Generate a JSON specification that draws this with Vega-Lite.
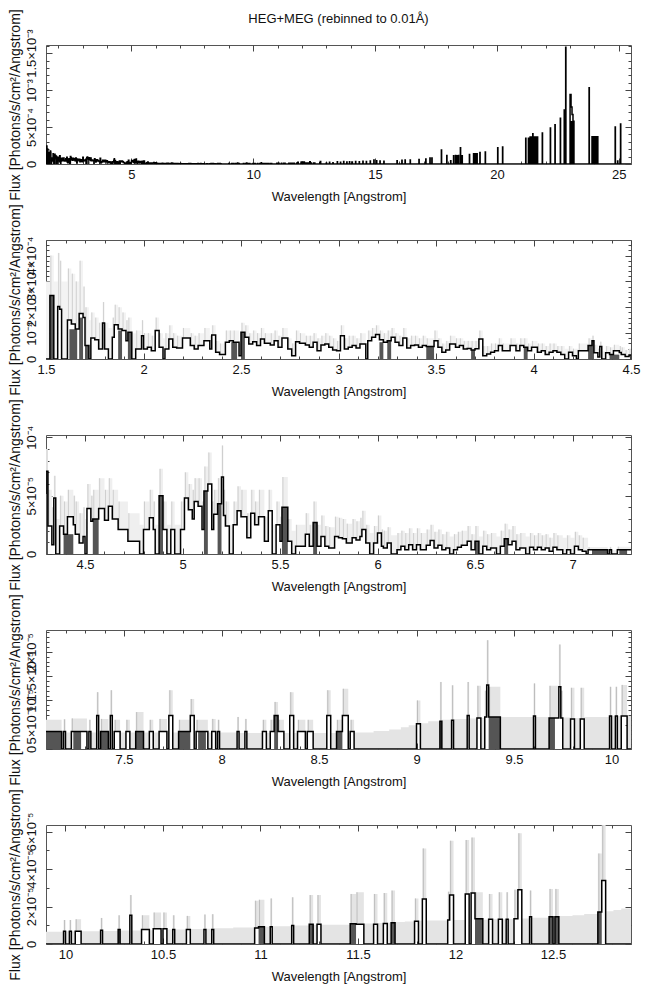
{
"$schema":"https://vega.github.io/schema/vega-lite/v6.json",
"background":"white",
"padding":{"left":7,"top":8,"right":10,"bottom":5},
"datasets":{
"spec":[
{"w":1.50,"f":0,"hi":30},{"w":1.52,"f":24.5,"hi":40},{"w":1.54,"f":0,"hi":30},{"w":1.56,"f":20.3,"hi":41},{"w":1.57,"f":19.2,"hi":38},{"w":1.58,"f":0,"hi":30},{"w":1.61,"f":15.1,"hi":35},{"w":1.63,"f":13.5,"hi":33},{"w":1.65,"f":11.6,"hi":30},{"w":1.67,"f":17.6,"hi":38},{"w":1.69,"f":16.0,"hi":28},{"w":1.70,"f":5.2,"hi":20},{"w":1.72,"f":0,"hi":15},{"w":1.73,"f":8.1,"hi":18},{"w":1.75,"f":7.4,"hi":16},{"w":1.77,"f":3.9,"hi":14},{"w":1.79,"f":13.9,"hi":22},{"w":1.80,"f":3.9,"hi":14},{"w":1.82,"f":0,"hi":12},{"w":1.84,"f":8.4,"hi":16},{"w":1.85,"f":13.2,"hi":21},{"w":1.87,"f":11.6,"hi":20},{"w":1.89,"f":11.0,"hi":18},{"w":1.91,"f":7.1,"hi":15},{"w":1.92,"f":10.3,"hi":16},{"w":1.94,"f":0,"hi":10},{"w":1.96,"f":3.9,"hi":11},{"w":1.99,"f":9.0,"hi":15},{"w":2.00,"f":3.9,"hi":10},{"w":2.02,"f":4.5,"hi":10},{"w":2.04,"f":3.2,"hi":9},{"w":2.06,"f":11.0,"hi":16},{"w":2.08,"f":4.5,"hi":10},{"w":2.10,"f":0,"hi":8},{"w":2.11,"f":3.9,"hi":10},{"w":2.13,"f":7.7,"hi":13},{"w":2.15,"f":4.5,"hi":10},{"w":2.17,"f":4.3,"hi":9},{"w":2.20,"f":8.1,"hi":12},{"w":2.24,"f":5.2,"hi":10},{"w":2.26,"f":3.9,"hi":9},{"w":2.28,"f":5.2,"hi":10},{"w":2.31,"f":7.1,"hi":12},{"w":2.34,"f":3.9,"hi":9},{"w":2.35,"f":9.3,"hi":13},{"w":2.37,"f":2.6,"hi":7},{"w":2.39,"f":1.7,"hi":6},{"w":2.42,"f":6.5,"hi":11},{"w":2.44,"f":7.1,"hi":11},{"w":2.46,"f":6.5,"hi":11},{"w":2.49,"f":1.3,"hi":6},{"w":2.50,"f":10.3,"hi":14},{"w":2.52,"f":8.4,"hi":13},{"w":2.54,"f":5.8,"hi":10},{"w":2.56,"f":6.7,"hi":11},{"w":2.58,"f":5.2,"hi":10},{"w":2.60,"f":7.7,"hi":12},{"w":2.62,"f":6.1,"hi":10},{"w":2.65,"f":5.4,"hi":10},{"w":2.67,"f":7.1,"hi":11},{"w":2.69,"f":4.5,"hi":9},{"w":2.71,"f":8.1,"hi":12},{"w":2.74,"f":3.9,"hi":8},{"w":2.76,"f":1.3,"hi":6},{"w":2.78,"f":6.7,"hi":11},{"w":2.80,"f":6.1,"hi":10},{"w":2.83,"f":5.4,"hi":9},{"w":2.85,"f":4.5,"hi":9},{"w":2.87,"f":6.5,"hi":10},{"w":2.89,"f":3.2,"hi":8},{"w":2.91,"f":5.4,"hi":9},{"w":2.93,"f":5.8,"hi":10},{"w":2.95,"f":4.5,"hi":9},{"w":2.97,"f":3.5,"hi":8},{"w":2.99,"f":3.2,"hi":7},{"w":3.01,"f":9.0,"hi":13},{"w":3.03,"f":3.9,"hi":8},{"w":3.05,"f":4.5,"hi":9},{"w":3.07,"f":5.2,"hi":9},{"w":3.09,"f":4.3,"hi":8},{"w":3.11,"f":5.8,"hi":10},{"w":3.14,"f":0,"hi":5},{"w":3.15,"f":7.1,"hi":11},{"w":3.17,"f":8.4,"hi":12},{"w":3.19,"f":9.5,"hi":13},{"w":3.21,"f":7.4,"hi":11},{"w":3.23,"f":6.5,"hi":10},{"w":3.25,"f":7.1,"hi":11},{"w":3.27,"f":8.4,"hi":12},{"w":3.29,"f":6.5,"hi":10},{"w":3.31,"f":5.2,"hi":9},{"w":3.33,"f":8.1,"hi":12},{"w":3.35,"f":4.3,"hi":8},{"w":3.37,"f":5.2,"hi":9},{"w":3.39,"f":5.4,"hi":9},{"w":3.41,"f":4.5,"hi":8},{"w":3.43,"f":5.2,"hi":9},{"w":3.45,"f":4.8,"hi":8},{"w":3.49,"f":7.1,"hi":11},{"w":3.51,"f":4.5,"hi":8},{"w":3.53,"f":2.6,"hi":6},{"w":3.55,"f":3.5,"hi":7},{"w":3.57,"f":5.8,"hi":9},{"w":3.60,"f":4.5,"hi":8},{"w":3.62,"f":5.2,"hi":8},{"w":3.64,"f":3.9,"hi":7},{"w":3.66,"f":4.1,"hi":7},{"w":3.68,"f":3.5,"hi":7},{"w":3.70,"f":4.0,"hi":7},{"w":3.72,"f":7.7,"hi":11},{"w":3.74,"f":1.3,"hi":5},{"w":3.76,"f":1.9,"hi":5},{"w":3.78,"f":2.6,"hi":6},{"w":3.80,"f":3.2,"hi":6},{"w":3.82,"f":5.2,"hi":8},{"w":3.84,"f":3.2,"hi":6},{"w":3.88,"f":5.2,"hi":8},{"w":3.91,"f":3.2,"hi":6},{"w":3.93,"f":5.2,"hi":8},{"w":3.95,"f":4.5,"hi":8},{"w":3.97,"f":3.2,"hi":6},{"w":3.99,"f":4.5,"hi":7},{"w":4.02,"f":2.6,"hi":6},{"w":4.04,"f":3.2,"hi":6},{"w":4.06,"f":1.7,"hi":5},{"w":4.08,"f":2.6,"hi":6},{"w":4.10,"f":3.2,"hi":6},{"w":4.12,"f":2.6,"hi":5},{"w":4.14,"f":1.7,"hi":5},{"w":4.16,"f":0,"hi":4},{"w":4.18,"f":2.6,"hi":5},{"w":4.20,"f":1.3,"hi":4},{"w":4.22,"f":0,"hi":4},{"w":4.23,"f":3.2,"hi":6},{"w":4.28,"f":5.2,"hi":8},
{"w":4.30,"f":7.1,"hi":9.0},{"w":4.31,"f":2.4,"hi":5.5},{"w":4.33,"f":0.8,"hi":4},{"w":4.34,"f":4.8,"hi":6.7},{"w":4.35,"f":0,"hi":3},{"w":4.37,"f":2.4,"hi":5},{"w":4.39,"f":1.7,"hi":4.5},{"w":4.41,"f":3.2,"hi":5.5},{"w":4.44,"f":2.5,"hi":5},{"w":4.45,"f":1.7,"hi":4.5},{"w":4.47,"f":0.95,"hi":3.5},{"w":4.49,"f":1.5,"hi":4},{"w":4.50,"f":0,"hi":3},{"w":4.51,"f":3.9,"hi":6},{"w":4.53,"f":2.8,"hi":5},{"w":4.54,"f":3.0,"hi":5.5},{"w":4.57,"f":3.9,"hi":6.5},{"w":4.60,"f":2.9,"hi":5.5},{"w":4.62,"f":4.1,"hi":6.5},{"w":4.64,"f":3.0,"hi":5.5},{"w":4.67,"f":2.1,"hi":4.5},{"w":4.72,"f":1.1,"hi":3.5},{"w":4.78,"f":0,"hi":2.5},{"w":4.80,"f":2.1,"hi":4.5},{"w":4.83,"f":3.1,"hi":5.5},{"w":4.85,"f":2.1,"hi":4.5},{"w":4.86,"f":0,"hi":2.5},{"w":4.88,"f":5.0,"hi":7.3},{"w":4.90,"f":2.1,"hi":4.5},{"w":4.92,"f":0,"hi":2.5},{"w":4.94,"f":2.1,"hi":4.5},{"w":4.96,"f":0,"hi":2.5},{"w":4.99,"f":2.1,"hi":4.5},{"w":5.01,"f":4.8,"hi":7},{"w":5.03,"f":3.8,"hi":6},{"w":5.05,"f":3.0,"hi":5.5},{"w":5.06,"f":4.5,"hi":6.5},{"w":5.08,"f":4.1,"hi":6.5},{"w":5.10,"f":2.1,"hi":4.5},{"w":5.11,"f":5.4,"hi":7.5},{"w":5.13,"f":6.0,"hi":8.7},{"w":5.15,"f":2.1,"hi":4.5},{"w":5.16,"f":3.4,"hi":5.5},{"w":5.18,"f":4.3,"hi":6.5},{"w":5.20,"f":6.6,"hi":9.3},{"w":5.21,"f":3.3,"hi":5.5},{"w":5.22,"f":2.4,"hi":4.5},{"w":5.24,"f":0,"hi":2.5},{"w":5.26,"f":2.5,"hi":4.5},{"w":5.28,"f":3.7,"hi":5.8},{"w":5.30,"f":3.2,"hi":5.5},{"w":5.33,"f":1.4,"hi":3.5},{"w":5.35,"f":3.5,"hi":5.5},{"w":5.37,"f":2.5,"hi":4.5},{"w":5.39,"f":3.2,"hi":5.5},{"w":5.42,"f":1.1,"hi":3.2},{"w":5.44,"f":3.7,"hi":5.5},{"w":5.46,"f":0,"hi":2.5},{"w":5.48,"f":2.5,"hi":4.5},{"w":5.50,"f":1.1,"hi":3.2},{"w":5.51,"f":4.0,"hi":6.6},{"w":5.54,"f":1.1,"hi":3.0},
{"w":5.56,"f":0,"hi":2},{"w":5.58,"f":0.66,"hi":2.5},{"w":5.63,"f":1.7,"hi":3.5},{"w":5.65,"f":0.66,"hi":2.5},{"w":5.67,"f":2.7,"hi":4.5},{"w":5.69,"f":0.66,"hi":2.5},{"w":5.71,"f":1.5,"hi":3.3},{"w":5.73,"f":0.66,"hi":2.4},{"w":5.75,"f":0.52,"hi":2.3},{"w":5.78,"f":1.5,"hi":3.2},{"w":5.80,"f":1.4,"hi":3.1},{"w":5.82,"f":1.3,"hi":3.0},{"w":5.84,"f":0.95,"hi":2.6},{"w":5.87,"f":1.4,"hi":3.0},{"w":5.89,"f":1.2,"hi":2.8},{"w":5.91,"f":1.5,"hi":3.1},{"w":5.92,"f":2.1,"hi":3.7},{"w":5.94,"f":0.95,"hi":2.5},{"w":5.96,"f":0,"hi":1.8},{"w":5.98,"f":0.95,"hi":2.4},
{"w":6.00,"f":1.8,"hi":3.3},{"w":6.02,"f":0.66,"hi":2.1},{"w":6.03,"f":0.52,"hi":2.0},{"w":6.05,"f":0.95,"hi":2.3},{"w":6.07,"f":0,"hi":1.6},{"w":6.10,"f":0.37,"hi":1.8},{"w":6.12,"f":0.66,"hi":2.0},{"w":6.14,"f":0.37,"hi":1.8},{"w":6.16,"f":0.8,"hi":2.2},{"w":6.18,"f":0.37,"hi":1.8},{"w":6.20,"f":0.8,"hi":2.2},{"w":6.22,"f":0.37,"hi":1.8},{"w":6.25,"f":0.75,"hi":2.1},{"w":6.27,"f":1.15,"hi":2.5},{"w":6.29,"f":0.52,"hi":1.9},{"w":6.31,"f":0.75,"hi":2.1},{"w":6.33,"f":0.37,"hi":1.7},{"w":6.35,"f":0.52,"hi":1.9},{"w":6.37,"f":0,"hi":1.5},{"w":6.39,"f":0.37,"hi":1.7},{"w":6.41,"f":0.57,"hi":1.9},{"w":6.43,"f":0.75,"hi":2.0},{"w":6.46,"f":1.1,"hi":2.4},{"w":6.48,"f":0.37,"hi":1.7},{"w":6.50,"f":1.1,"hi":2.4},{"w":6.52,"f":0,"hi":1.5},{"w":6.54,"f":0.66,"hi":2.0},{"w":6.56,"f":0.37,"hi":1.7},{"w":6.58,"f":0.52,"hi":1.8},{"w":6.61,"f":0,"hi":1.5},{"w":6.63,"f":0.66,"hi":2.0},{"w":6.65,"f":1.3,"hi":2.6},{"w":6.67,"f":0.8,"hi":2.1},{"w":6.69,"f":1.1,"hi":2.4},{"w":6.71,"f":0.37,"hi":1.7},{"w":6.73,"f":0.52,"hi":1.8},{"w":6.76,"f":0,"hi":1.5},{"w":6.78,"f":0.57,"hi":1.8},{"w":6.80,"f":0.37,"hi":1.6},{"w":6.82,"f":0.57,"hi":1.8},{"w":6.84,"f":0.37,"hi":1.6},{"w":6.86,"f":0.52,"hi":1.7},{"w":6.88,"f":0.23,"hi":1.4},{"w":6.90,"f":0.57,"hi":1.8},{"w":6.92,"f":0.37,"hi":1.6},{"w":6.95,"f":0,"hi":1.4},{"w":6.97,"f":0.37,"hi":1.6},{"w":6.99,"f":0,"hi":1.4},{"w":7.01,"f":0.66,"hi":1.9},{"w":7.03,"f":0.37,"hi":1.6},{"w":7.05,"f":0.23,"hi":1.4},{"w":7.07,"f":0,"hi":1.4},
{"w":7.08,"f":0.36,"hi":0.6},{"w":7.18,"f":0,"hi":0.34},{"w":7.19,"f":0.36,"hi":0.61},{"w":7.20,"f":0,"hi":0.34},{"w":7.23,"f":0.36,"hi":0.63},{"w":7.31,"f":0,"hi":0.34},{"w":7.32,"f":0.36,"hi":0.6},{"w":7.33,"f":0,"hi":0.34},{"w":7.36,"f":0.69,"hi":1.17},{"w":7.37,"f":0,"hi":0.34},{"w":7.38,"f":0.36,"hi":0.62},{"w":7.42,"f":0,"hi":0.34},{"w":7.43,"f":0.69,"hi":1.21},{"w":7.44,"f":0,"hi":0.34},{"w":7.45,"f":0.36,"hi":0.6},{"w":7.48,"f":0,"hi":0.34},{"w":7.51,"f":0.36,"hi":0.6},{"w":7.53,"f":0,"hi":0.34},{"w":7.56,"f":0.36,"hi":0.76},{"w":7.60,"f":0,"hi":0.34},{"w":7.63,"f":0.36,"hi":0.6},{"w":7.65,"f":0,"hi":0.34},{"w":7.68,"f":0.36,"hi":0.62},{"w":7.72,"f":0,"hi":0.34},{"w":7.73,"f":0.69,"hi":1.21},{"w":7.75,"f":0,"hi":0.34},{"w":7.78,"f":0.36,"hi":0.6},{"w":7.84,"f":0.69,"hi":1.03},{"w":7.86,"f":0,"hi":0.34},{"w":7.87,"f":0.36,"hi":0.6},{"w":7.93,"f":0,"hi":0.34},{"w":7.95,"f":0.36,"hi":0.62},{"w":7.97,"f":0,"hi":0.34},{"w":7.98,"f":0.36,"hi":0.6},{"w":7.99,"f":0,"hi":0.34},{"w":8.08,"f":0.36,"hi":0.66},{"w":8.09,"f":0,"hi":0.33},{"w":8.12,"f":0.36,"hi":0.62},{"w":8.13,"f":0,"hi":0.33},{"w":8.21,"f":0.36,"hi":0.6},{"w":8.23,"f":0,"hi":0.33},{"w":8.25,"f":0.36,"hi":0.6},{"w":8.27,"f":0.69,"hi":0.97},{"w":8.29,"f":0.36,"hi":0.6},{"w":8.32,"f":0,"hi":0.33},{"w":8.35,"f":0.69,"hi":1.17},{"w":8.37,"f":0,"hi":0.33},{"w":8.39,"f":0.36,"hi":0.6},{"w":8.43,"f":0,"hi":0.33},{"w":8.44,"f":0.36,"hi":0.6},{"w":8.47,"f":0,"hi":0.33},{"w":8.54,"f":0.69,"hi":1.21},{"w":8.56,"f":0,"hi":0.33},{"w":8.59,"f":0.36,"hi":0.6},{"w":8.62,"f":0.69,"hi":1.24},{"w":8.65,"f":0,"hi":0.33},{"w":8.66,"f":0.36,"hi":0.6},{"w":8.68,"f":0,"hi":0.34},{"w":8.78,"f":0,"hi":0.37},{"w":8.86,"f":0,"hi":0.4},{"w":8.92,"f":0,"hi":0.45},{"w":8.96,"f":0,"hi":0.49},{"w":9.00,"f":0.52,"hi":1.0},{"w":9.02,"f":0,"hi":0.53},{"w":9.06,"f":0,"hi":0.57},{"w":9.12,"f":0.57,"hi":1.38},{"w":9.13,"f":0,"hi":0.6},{"w":9.18,"f":0.59,"hi":1.31},{"w":9.19,"f":0,"hi":0.62},{"w":9.26,"f":0.69,"hi":1.38},{"w":9.27,"f":0,"hi":0.63},{"w":9.31,"f":0.64,"hi":1.3},{"w":9.33,"f":0,"hi":0.64},{"w":9.35,"f":0.66,"hi":1.2},{"w":9.36,"f":1.32,"hi":2.24},{"w":9.37,"f":0.66,"hi":1.28},{"w":9.43,"f":0,"hi":0.66},{"w":9.60,"f":0.68,"hi":1.35},{"w":9.61,"f":0,"hi":0.66},{"w":9.68,"f":0.64,"hi":1.3},{"w":9.73,"f":1.28,"hi":2.15},{"w":9.74,"f":0.64,"hi":1.2},{"w":9.75,"f":0,"hi":0.65},{"w":9.79,"f":0.62,"hi":1.26},{"w":9.81,"f":0,"hi":0.64},{"w":9.84,"f":0.62,"hi":1.26},{"w":9.86,"f":0,"hi":0.66},
{"w":9.99,"f":0.68,"hi":1.28},{"w":10.00,"f":0,"hi":0.68},{"w":10.02,"f":0.68,"hi":1.28},{"w":10.03,"f":0,"hi":0.68},{"w":10.05,"f":0.68,"hi":1.32},{"w":10.08,"f":0,"hi":0.68},{"w":10.18,"f":0.74,"hi":1.39},{"w":10.19,"f":0,"hi":0.7},{"w":10.27,"f":0.77,"hi":1.53},{"w":10.28,"f":0,"hi":0.72},{"w":10.33,"f":1.53,"hi":2.61},{"w":10.34,"f":0,"hi":0.72},{"w":10.39,"f":0.77,"hi":1.53},{"w":10.43,"f":0,"hi":0.74},{"w":10.45,"f":0.81,"hi":1.68},{"w":10.49,"f":0,"hi":0.75},{"w":10.50,"f":0.81,"hi":1.68},{"w":10.52,"f":0,"hi":0.77},{"w":10.55,"f":0.77,"hi":1.53},{"w":10.56,"f":0,"hi":0.78},{"w":10.62,"f":0.77,"hi":1.5},{"w":10.64,"f":0,"hi":0.8},{"w":10.71,"f":0.77,"hi":1.57},{"w":10.72,"f":0,"hi":0.82},{"w":10.75,"f":0.77,"hi":1.59},{"w":10.76,"f":0,"hi":0.84},{"w":10.86,"f":0,"hi":0.88},{"w":10.97,"f":0.86,"hi":2.31},{"w":10.99,"f":0.92,"hi":2.36},{"w":11.02,"f":0,"hi":0.92},{"w":11.05,"f":0.92,"hi":2.43},{"w":11.06,"f":0,"hi":0.95},{"w":11.16,"f":0.99,"hi":2.49},{"w":11.17,"f":0,"hi":0.99},{"w":11.25,"f":1.05,"hi":2.61},{"w":11.27,"f":0,"hi":1.02},{"w":11.29,"f":1.05,"hi":2.61},{"w":11.31,"f":0,"hi":1.03},{"w":11.46,"f":1.08,"hi":2.67},{"w":11.49,"f":1.05,"hi":2.76},{"w":11.53,"f":0,"hi":1.1},{"w":11.58,"f":1.05,"hi":2.67},{"w":11.60,"f":0,"hi":1.12},{"w":11.63,"f":1.1,"hi":2.72},{"w":11.65,"f":0,"hi":1.14},{"w":11.67,"f":1.14,"hi":2.85},{"w":11.69,"f":0,"hi":1.17},{"w":11.74,"f":0,"hi":1.2},{"w":11.79,"f":1.22,"hi":2.43},{"w":11.81,"f":0,"hi":1.24},{"w":11.83,"f":2.4,"hi":5.1},{"w":11.85,"f":0,"hi":1.26},{"w":11.96,"f":1.28,"hi":2.79},{"w":11.97,"f":2.61,"hi":5.51},{"w":11.99,"f":0,"hi":1.28},{"w":12.05,"f":2.67,"hi":5.55},{"w":12.07,"f":0,"hi":1.3},{"w":12.08,"f":2.72,"hi":5.68},{"w":12.10,"f":1.35,"hi":2.76},{"w":12.14,"f":0,"hi":1.3},{"w":12.17,"f":1.32,"hi":2.67},{"w":12.19,"f":0,"hi":1.32},{"w":12.22,"f":1.32,"hi":2.76},{"w":12.24,"f":0,"hi":1.32},{"w":12.26,"f":1.32,"hi":2.76},{"w":12.27,"f":0,"hi":1.33},{"w":12.30,"f":1.35,"hi":2.9},{"w":12.32,"f":2.9,"hi":5.91},{"w":12.34,"f":0,"hi":1.36},{"w":12.38,"f":1.46,"hi":2.85},{"w":12.39,"f":0,"hi":1.4},{"w":12.48,"f":1.46,"hi":2.94},{"w":12.50,"f":0,"hi":1.46},{"w":12.51,"f":1.46,"hi":2.94},{"w":12.53,"f":0,"hi":1.5},{"w":12.60,"f":0,"hi":1.54},{"w":12.66,"f":0,"hi":1.6},{"w":12.73,"f":1.71,"hi":4.83},{"w":12.75,"f":3.39,"hi":6.5},{"w":12.77,"f":0,"hi":1.75},{"w":12.81,"f":0,"hi":1.82},{"w":12.85,"f":0,"hi":1.9},
{"w":13.00,"f":1.5,"hi":1.5},{"w":13.01,"f":0,"hi":0},{"w":13.13,"f":2.5,"hi":2.5},{"w":13.14,"f":0,"hi":0},{"w":13.27,"f":1.8,"hi":1.8},{"w":13.28,"f":0,"hi":0},{"w":13.45,"f":3.0,"hi":3.0},{"w":13.46,"f":0,"hi":0},{"w":13.58,"f":2.2,"hi":2.2},{"w":13.59,"f":0,"hi":0},{"w":13.71,"f":3.5,"hi":3.5},{"w":13.72,"f":0,"hi":0},{"w":13.84,"f":2.6,"hi":2.6},{"w":13.85,"f":0,"hi":0},{"w":13.95,"f":3.2,"hi":3.2},{"w":13.96,"f":0,"hi":0},{"w":14.06,"f":2.8,"hi":2.8},{"w":14.07,"f":0,"hi":0},{"w":14.20,"f":3.5,"hi":3.5},{"w":14.21,"f":0,"hi":0},{"w":14.35,"f":2.9,"hi":2.9},{"w":14.36,"f":0,"hi":0},{"w":14.50,"f":3.6,"hi":3.6},{"w":14.51,"f":0,"hi":0},{"w":14.64,"f":3.3,"hi":3.3},{"w":14.65,"f":0,"hi":0},{"w":14.80,"f":4.0,"hi":4.0},{"w":14.81,"f":0,"hi":0},{"w":14.95,"f":5.5,"hi":5.5},{"w":14.96,"f":0,"hi":0},{"w":15.06,"f":4.5,"hi":4.5},{"w":15.07,"f":0,"hi":0},{"w":15.20,"f":4.2,"hi":4.2},{"w":15.21,"f":0,"hi":0},{"w":15.36,"f":3.8,"hi":3.8},{"w":15.37,"f":0,"hi":0},{"w":15.90,"f":4.5,"hi":4.5},{"w":15.91,"f":0,"hi":0},{"w":16.10,"f":5.0,"hi":5.0},{"w":16.11,"f":0,"hi":0},{"w":16.23,"f":5.5,"hi":5.5},{"w":16.24,"f":0,"hi":0},{"w":16.44,"f":5.5,"hi":5.5},{"w":16.45,"f":0,"hi":0},{"w":16.80,"f":6.0,"hi":6.0},{"w":16.81,"f":0,"hi":0},{"w":17.08,"f":6.8,"hi":6.8},{"w":17.09,"f":0,"hi":0},{"w":17.25,"f":8.0,"hi":8.0},{"w":17.26,"f":0,"hi":0},{"w":17.33,"f":8.0,"hi":8.0},{"w":17.34,"f":0,"hi":0},{"w":17.72,"f":19,"hi":19},{"w":17.73,"f":0,"hi":0},{"w":17.94,"f":11.4,"hi":11.4},{"w":17.95,"f":0,"hi":0},{"w":18.10,"f":4.5,"hi":4.5},{"w":18.11,"f":0,"hi":0},{"w":18.22,"f":11,"hi":11},{"w":18.23,"f":0,"hi":0},{"w":18.30,"f":11.5,"hi":11.5},{"w":18.31,"f":0,"hi":0},{"w":18.36,"f":11,"hi":11},{"w":18.37,"f":0,"hi":0},{"w":18.42,"f":11.4,"hi":11.4},{"w":18.43,"f":0,"hi":0},{"w":18.50,"f":22,"hi":22},{"w":18.51,"f":0,"hi":0},{"w":18.57,"f":11,"hi":11},{"w":18.58,"f":0,"hi":0},{"w":18.87,"f":12.7,"hi":12.7},{"w":18.88,"f":0,"hi":0},{"w":19.04,"f":14,"hi":14},{"w":19.05,"f":0,"hi":0},{"w":19.11,"f":14,"hi":14},{"w":19.12,"f":0,"hi":0},{"w":19.18,"f":14,"hi":14},{"w":19.19,"f":0,"hi":0},{"w":19.30,"f":15.5,"hi":15.5},{"w":19.31,"f":0,"hi":0},{"w":19.52,"f":16.4,"hi":16.4},{"w":19.53,"f":0,"hi":0},{"w":20.03,"f":22,"hi":22},{"w":20.04,"f":0,"hi":0},{"w":20.23,"f":23,"hi":23},{"w":20.24,"f":0,"hi":0},{"w":21.18,"f":35,"hi":35},{"w":21.19,"f":0,"hi":0},{"w":21.29,"f":35,"hi":35},{"w":21.30,"f":0,"hi":0},{"w":21.36,"f":36.5,"hi":36.5},{"w":21.37,"f":0,"hi":0},{"w":21.43,"f":36.5,"hi":36.5},{"w":21.44,"f":0,"hi":0},{"w":21.47,"f":41,"hi":41},{"w":21.48,"f":0,"hi":0},{"w":21.52,"f":36.5,"hi":36.5},{"w":21.67,"f":0,"hi":0},{"w":21.86,"f":42,"hi":42},{"w":21.87,"f":0,"hi":0},{"w":22.19,"f":48.6,"hi":48.6},{"w":22.20,"f":0,"hi":0},{"w":22.38,"f":53,"hi":53},{"w":22.39,"f":0,"hi":0},{"w":22.60,"f":62,"hi":62},{"w":22.61,"f":0,"hi":0},{"w":22.76,"f":73,"hi":73},{"w":22.77,"f":0,"hi":0},{"w":22.82,"f":158,"hi":158},{"w":22.83,"f":0,"hi":0},{"w":23.00,"f":94,"hi":94},{"w":23.04,"f":77,"hi":77},{"w":23.08,"f":67,"hi":67},{"w":23.12,"f":58,"hi":58},{"w":23.16,"f":0,"hi":0},{"w":23.78,"f":103,"hi":103},{"w":23.79,"f":0,"hi":0},{"w":23.90,"f":37,"hi":37},{"w":24.14,"f":0,"hi":0},{"w":24.85,"f":50,"hi":50},{"w":24.86,"f":0,"hi":0},{"w":24.95,"f":4,"hi":4},{"w":24.96,"f":0,"hi":0},{"w":25.07,"f":54,"hi":54},{"w":25.08,"f":0,"hi":0},{"w":25.60,"f":0,"hi":0}
],
"dense":[
{"a":1.52,"b":1.54,"f":24.5},{"a":1.62,"b":1.66,"f":11.5},{"a":1.67,"b":1.69,"f":16},{"a":1.70,"b":1.72,"f":5.2},{"a":1.87,"b":1.89,"f":11},{"a":1.92,"b":1.94,"f":10.3},{"a":2.45,"b":2.48,"f":6.5},{"a":2.50,"b":2.52,"f":10.3},{"a":3.21,"b":3.23,"f":6.5},{"a":3.25,"b":3.27,"f":7.1},{"a":3.45,"b":3.49,"f":4.8},{"a":3.68,"b":3.70,"f":3.5},{"a":3.95,"b":3.97,"f":4.5},{"a":4.28,"b":4.30,"f":5.2},
{"a":4.30,"b":4.31,"f":7.1},{"a":4.39,"b":4.44,"f":1.7},{"a":4.54,"b":4.57,"f":3.0},{"a":4.88,"b":4.90,"f":5.0},{"a":5.11,"b":5.13,"f":5.4},{"a":5.18,"b":5.20,"f":4.3},{"a":5.51,"b":5.54,"f":4.0},{"a":5.67,"b":5.69,"f":2.7},{"a":6.50,"b":6.52,"f":1.1},{"a":6.65,"b":6.67,"f":1.3},
{"a":7.10,"b":7.18,"f":0.36},{"a":7.24,"b":7.28,"f":0.36},{"a":7.38,"b":7.42,"f":0.36},{"a":7.56,"b":7.60,"f":0.36},{"a":7.78,"b":7.84,"f":0.36},{"a":7.88,"b":7.92,"f":0.36},{"a":8.27,"b":8.29,"f":0.69},{"a":8.59,"b":8.62,"f":0.36},{"a":9.12,"b":9.13,"f":0.57},{"a":9.37,"b":9.43,"f":0.66},{"a":9.68,"b":9.71,"f":0.64},
{"a":10.27,"b":10.28,"f":0.77},{"a":10.99,"b":11.02,"f":0.92},{"a":11.25,"b":11.27,"f":1.05},{"a":11.46,"b":11.49,"f":1.08},{"a":11.67,"b":11.69,"f":1.14},{"a":12.10,"b":12.14,"f":1.35},{"a":12.48,"b":12.50,"f":1.46},{"a":12.51,"b":12.53,"f":1.46},{"a":12.73,"b":12.75,"f":1.71},
{"a":21.52,"b":21.67,"f":36.5},{"a":23.00,"b":23.16,"f":58},{"a":23.90,"b":24.14,"f":37}
]
},
"spacing":76,
"bounds":"flush",
"vconcat":[
{
"width":585,"height":119,
"title":{"text":"HEG+MEG (rebinned to 0.01Å)","frame":"group","anchor":"middle","offset":-17},
"layer":[
{"data":{"name":"dense"},"mark":{"type":"rect","color":"#000","clip":true},
"encoding":{
"x":{"field":"a","type":"quantitative","scale":{"domain":[1.5,25.5],"nice":false,"zero":false},"axis":{"orient":"bottom","values":[5,10,15,20,25],"tickSize":-6,"labelPadding":10,"format":"~g","labelFlush":false,"labelOverlap":false,"title":"Wavelength [Angstrom]","titlePadding":9}},
"x2":{"field":"b"},
"y":{"field":"f","type":"quantitative","scale":{"domain":[0,161],"nice":false,"zero":false},"axis":{"orient":"left","values":[0,50,100,150],"tickSize":-6,"labelAngle":270,"labelAlign":"center","labelBaseline":"bottom","labelPadding":14,"labelFlush":false,"labelOverlap":false,"labelExpr":"datum.value == 0 ? '0' : datum.value == 50 ? '5×10⁻⁴' : datum.value == 100 ? '10⁻³' : '1.5×10⁻³'","title":"Flux [Photons/s/cm²/Angstrom]","titleFontSize":14,"titlePadding":3}},
"y2":{"datum":0}}},
{"data":{"name":"spec"},"mark":{"type":"line","interpolate":"step-after","color":"#000","strokeWidth":1.5,"clip":true},
"encoding":{
"x":{"field":"w","type":"quantitative","scale":{"domain":[1.5,25.5],"nice":false,"zero":false},"axis":{"orient":"top","values":[5,10,15,20,25],"tickSize":-6,"labels":false,"title":null}},
"y":{"field":"f","type":"quantitative","scale":{"domain":[0,161],"nice":false,"zero":false},"axis":{"orient":"right","values":[0,50,100,150],"tickSize":-6,"labels":false,"title":null}}}},
{"data":{"name":"dense"},"mark":{"type":"rect","color":"#000","clip":true},
"encoding":{
"x":{"field":"a","type":"quantitative","scale":{"domain":[1.5,25.5],"nice":false,"zero":false},"axis":{"orient":"bottom","values":[2,3,4,6,7,8,9,11,12,13,14,16,17,18,19,21,22,23,24],"tickSize":-3,"labels":false,"title":null}},
"x2":{"field":"b"},
"y":{"field":"f","type":"quantitative","scale":{"domain":[0,161],"nice":false,"zero":false},"axis":{"orient":"left","values":[10,20,30,40,60,70,80,90,110,120,130,140,160],"tickSize":-3,"labels":false,"title":null}},
"y2":{"datum":0}}},
{"data":{"name":"dense"},"mark":{"type":"rect","color":"#000","clip":true},
"encoding":{
"x":{"field":"a","type":"quantitative","scale":{"domain":[1.5,25.5],"nice":false,"zero":false},"axis":{"orient":"top","values":[2,3,4,6,7,8,9,11,12,13,14,16,17,18,19,21,22,23,24],"tickSize":-3,"labels":false,"title":null}},
"x2":{"field":"b"},
"y":{"field":"f","type":"quantitative","scale":{"domain":[0,161],"nice":false,"zero":false},"axis":{"orient":"right","values":[10,20,30,40,60,70,80,90,110,120,130,140,160],"tickSize":-3,"labels":false,"title":null}},
"y2":{"datum":0}}}
],
"resolve":{"axis":{"x":"independent","y":"independent"}}
},
{
"width":585,"height":119,
"layer":[
{"data":{"name":"spec"},"mark":{"type":"area","interpolate":"step-after","color":"#f3f3f3","clip":true},
"encoding":{
"x":{"field":"w","type":"quantitative","scale":{"domain":[1.5,4.5],"nice":false,"zero":false},"axis":{"orient":"bottom","values":[1.5,2,2.5,3,3.5,4,4.5],"tickSize":-6,"labelPadding":10,"format":"~g","labelFlush":false,"labelOverlap":false,"title":"Wavelength [Angstrom]","titlePadding":9}},
"y":{"field":"hi","type":"quantitative","scale":{"domain":[0,46],"nice":false,"zero":false},"axis":{"orient":"left","values":[0,10,20,30,40],"tickSize":-6,"labelAngle":270,"labelAlign":"center","labelBaseline":"bottom","labelPadding":14,"labelFlush":false,"labelOverlap":false,"labelExpr":"datum.value == 0 ? '0' : datum.value == 10 ? '10⁻⁴' : (datum.value/10) + '×10⁻⁴'","title":"Flux [Photons/s/cm²/Angstrom]","titleFontSize":14,"titlePadding":3}},
"y2":{"field":"f"}}},
{"data":{"name":"dense"},"mark":{"type":"rect","color":"#555","clip":true},
"encoding":{
"x":{"field":"a","type":"quantitative","scale":{"domain":[1.5,4.5],"nice":false,"zero":false},"axis":{"orient":"top","values":[1.5,2,2.5,3,3.5,4,4.5],"tickSize":-6,"labels":false,"title":null}},
"x2":{"field":"b"},
"y":{"field":"f","type":"quantitative","scale":{"domain":[0,46],"nice":false,"zero":false},"axis":{"orient":"right","values":[0,10,20,30,40],"tickSize":-6,"labels":false,"title":null}},
"y2":{"datum":0}}},
{"data":{"name":"spec"},"transform":[{"filter":"datum.f > 0"}],"mark":{"type":"rule","color":"#d0d0d0","strokeWidth":1,"xOffset":1,"clip":true},
"encoding":{
"x":{"field":"w","type":"quantitative","scale":{"domain":[1.5,4.5],"nice":false,"zero":false},"axis":{"orient":"bottom","values":[1.6,1.7,1.8,1.9,2.1,2.2,2.3,2.4,2.6,2.7,2.8,2.9,3.1,3.2,3.3,3.4,3.6,3.7,3.8,3.9,4.1,4.2,4.3,4.4],"tickSize":-3,"labels":false,"title":null}},
"y":{"field":"f","type":"quantitative","scale":{"domain":[0,46],"nice":false,"zero":false},"axis":{"orient":"left","values":[2,4,6,8,12,14,16,18,22,24,26,28,32,34,36,38,42,44],"tickSize":-3,"labels":false,"title":null}},
"y2":{"field":"hi"}}},
{"data":{"name":"spec"},"mark":{"type":"line","interpolate":"step-after","color":"#000","strokeWidth":1.5,"clip":true},
"encoding":{
"x":{"field":"w","type":"quantitative","scale":{"domain":[1.5,4.5],"nice":false,"zero":false},"axis":{"orient":"top","values":[1.6,1.7,1.8,1.9,2.1,2.2,2.3,2.4,2.6,2.7,2.8,2.9,3.1,3.2,3.3,3.4,3.6,3.7,3.8,3.9,4.1,4.2,4.3,4.4],"tickSize":-3,"labels":false,"title":null}},
"y":{"field":"f","type":"quantitative","scale":{"domain":[0,46],"nice":false,"zero":false},"axis":{"orient":"right","values":[2,4,6,8,12,14,16,18,22,24,26,28,32,34,36,38,42,44],"tickSize":-3,"labels":false,"title":null}}}}
],
"resolve":{"axis":{"x":"independent","y":"independent"}}
},
{
"width":585,"height":119,
"layer":[
{"data":{"name":"spec"},"mark":{"type":"area","interpolate":"step-after","color":"#efefef","clip":true},
"encoding":{
"x":{"field":"w","type":"quantitative","scale":{"domain":[4.3,7.3],"nice":false,"zero":false},"axis":{"orient":"bottom","values":[4.5,5,5.5,6,6.5,7],"tickSize":-6,"labelPadding":10,"format":"~g","labelFlush":false,"labelOverlap":false,"title":"Wavelength [Angstrom]","titlePadding":9}},
"y":{"field":"hi","type":"quantitative","scale":{"domain":[0,10.2],"nice":false,"zero":false},"axis":{"orient":"left","values":[0,5,10],"tickSize":-6,"labelAngle":270,"labelAlign":"center","labelBaseline":"bottom","labelPadding":14,"labelFlush":false,"labelOverlap":false,"labelExpr":"datum.value == 0 ? '0' : datum.value == 5 ? '5×10⁻⁵' : '10⁻⁴'","title":"Flux [Photons/s/cm²/Angstrom]","titleFontSize":14,"titlePadding":3}},
"y2":{"field":"f"}}},
{"data":{"name":"dense"},"mark":{"type":"rect","color":"#555","clip":true},
"encoding":{
"x":{"field":"a","type":"quantitative","scale":{"domain":[4.3,7.3],"nice":false,"zero":false},"axis":{"orient":"top","values":[4.5,5,5.5,6,6.5,7],"tickSize":-6,"labels":false,"title":null}},
"x2":{"field":"b"},
"y":{"field":"f","type":"quantitative","scale":{"domain":[0,10.2],"nice":false,"zero":false},"axis":{"orient":"right","values":[0,5,10],"tickSize":-6,"labels":false,"title":null}},
"y2":{"datum":0}}},
{"data":{"name":"spec"},"transform":[{"filter":"datum.f > 0"}],"mark":{"type":"rule","color":"#cfcfcf","strokeWidth":1,"xOffset":1,"clip":true},
"encoding":{
"x":{"field":"w","type":"quantitative","scale":{"domain":[4.3,7.3],"nice":false,"zero":false},"axis":{"orient":"bottom","values":[4.4,4.6,4.7,4.8,4.9,5.1,5.2,5.3,5.4,5.6,5.7,5.8,5.9,6.1,6.2,6.3,6.4,6.6,6.7,6.8,6.9,7.1,7.2],"tickSize":-3,"labels":false,"title":null}},
"y":{"field":"f","type":"quantitative","scale":{"domain":[0,10.2],"nice":false,"zero":false},"axis":{"orient":"left","values":[1,2,3,4,6,7,8,9],"tickSize":-3,"labels":false,"title":null}},
"y2":{"field":"hi"}}},
{"data":{"name":"spec"},"mark":{"type":"line","interpolate":"step-after","color":"#000","strokeWidth":1.5,"clip":true},
"encoding":{
"x":{"field":"w","type":"quantitative","scale":{"domain":[4.3,7.3],"nice":false,"zero":false},"axis":{"orient":"top","values":[4.4,4.6,4.7,4.8,4.9,5.1,5.2,5.3,5.4,5.6,5.7,5.8,5.9,6.1,6.2,6.3,6.4,6.6,6.7,6.8,6.9,7.1,7.2],"tickSize":-3,"labels":false,"title":null}},
"y":{"field":"f","type":"quantitative","scale":{"domain":[0,10.2],"nice":false,"zero":false},"axis":{"orient":"right","values":[1,2,3,4,6,7,8,9],"tickSize":-3,"labels":false,"title":null}}}}
],
"resolve":{"axis":{"x":"independent","y":"independent"}}
},
{
"width":585,"height":119,
"layer":[
{"data":{"name":"spec"},"mark":{"type":"area","interpolate":"step-after","color":"#e4e4e4","clip":true},
"encoding":{
"x":{"field":"w","type":"quantitative","scale":{"domain":[7.1,10.1],"nice":false,"zero":false},"axis":{"orient":"bottom","values":[7.5,8,8.5,9,9.5,10],"tickSize":-6,"labelPadding":10,"format":"~g","labelFlush":false,"labelOverlap":false,"title":"Wavelength [Angstrom]","titlePadding":9}},
"y":{"field":"hi","type":"quantitative","scale":{"domain":[0,2.45],"nice":false,"zero":false},"axis":{"orient":"left","values":[0,0.5,1,1.5,2],"tickSize":-6,"labelAngle":270,"labelAlign":"center","labelBaseline":"bottom","labelPadding":14,"labelFlush":false,"labelOverlap":false,"labelExpr":"datum.value == 0 ? '0' : datum.value == 0.5 ? '5×10⁻⁶' : datum.value == 1 ? '10⁻⁵' : datum.value + '×10⁻⁵'","title":"Flux [Photons/s/cm²/Angstrom]","titleFontSize":14,"titlePadding":3}},
"y2":{"field":"f"}}},
{"data":{"name":"dense"},"mark":{"type":"rect","color":"#555","clip":true},
"encoding":{
"x":{"field":"a","type":"quantitative","scale":{"domain":[7.1,10.1],"nice":false,"zero":false},"axis":{"orient":"top","values":[7.5,8,8.5,9,9.5,10],"tickSize":-6,"labels":false,"title":null}},
"x2":{"field":"b"},
"y":{"field":"f","type":"quantitative","scale":{"domain":[0,2.45],"nice":false,"zero":false},"axis":{"orient":"right","values":[0,0.5,1,1.5,2],"tickSize":-6,"labels":false,"title":null}},
"y2":{"datum":0}}},
{"data":{"name":"spec"},"transform":[{"filter":"datum.f > 0"}],"mark":{"type":"rule","color":"#bdbdbd","strokeWidth":1,"xOffset":1,"clip":true},
"encoding":{
"x":{"field":"w","type":"quantitative","scale":{"domain":[7.1,10.1],"nice":false,"zero":false},"axis":{"orient":"bottom","values":[7.2,7.3,7.4,7.6,7.7,7.8,7.9,8.1,8.2,8.3,8.4,8.6,8.7,8.8,8.9,9.1,9.2,9.3,9.4,9.6,9.7,9.8,9.9],"tickSize":-3,"labels":false,"title":null}},
"y":{"field":"f","type":"quantitative","scale":{"domain":[0,2.45],"nice":false,"zero":false},"axis":{"orient":"left","values":[0.1,0.2,0.3,0.4,0.6,0.7,0.8,0.9,1.1,1.2,1.3,1.4,1.6,1.7,1.8,1.9,2.1,2.2,2.3,2.4],"tickSize":-3,"labels":false,"title":null}},
"y2":{"field":"hi"}}},
{"data":{"name":"spec"},"mark":{"type":"line","interpolate":"step-after","color":"#000","strokeWidth":1.5,"clip":true},
"encoding":{
"x":{"field":"w","type":"quantitative","scale":{"domain":[7.1,10.1],"nice":false,"zero":false},"axis":{"orient":"top","values":[7.2,7.3,7.4,7.6,7.7,7.8,7.9,8.1,8.2,8.3,8.4,8.6,8.7,8.8,8.9,9.1,9.2,9.3,9.4,9.6,9.7,9.8,9.9],"tickSize":-3,"labels":false,"title":null}},
"y":{"field":"f","type":"quantitative","scale":{"domain":[0,2.45],"nice":false,"zero":false},"axis":{"orient":"right","values":[0.1,0.2,0.3,0.4,0.6,0.7,0.8,0.9,1.1,1.2,1.3,1.4,1.6,1.7,1.8,1.9,2.1,2.2,2.3,2.4],"tickSize":-3,"labels":false,"title":null}}}}
],
"resolve":{"axis":{"x":"independent","y":"independent"}}
},
{
"width":585,"height":119,
"layer":[
{"data":{"name":"spec"},"mark":{"type":"area","interpolate":"step-after","color":"#e4e4e4","clip":true},
"encoding":{
"x":{"field":"w","type":"quantitative","scale":{"domain":[9.9,12.9],"nice":false,"zero":false},"axis":{"orient":"bottom","values":[10,10.5,11,11.5,12,12.5],"tickSize":-6,"labelPadding":10,"format":"~g","labelFlush":false,"labelOverlap":false,"title":"Wavelength [Angstrom]","titlePadding":9}},
"y":{"field":"hi","type":"quantitative","scale":{"domain":[0,6.35],"nice":false,"zero":false},"axis":{"orient":"left","values":[0,2,4,6],"tickSize":-6,"labelAngle":270,"labelAlign":"center","labelBaseline":"bottom","labelPadding":14,"labelFlush":false,"labelOverlap":false,"labelExpr":"datum.value == 0 ? '0' : datum.value + '×10⁻⁵'","title":"Flux [Photons/s/cm²/Angstrom]","titleFontSize":14,"titlePadding":3}},
"y2":{"field":"f"}}},
{"data":{"name":"dense"},"mark":{"type":"rect","color":"#555","clip":true},
"encoding":{
"x":{"field":"a","type":"quantitative","scale":{"domain":[9.9,12.9],"nice":false,"zero":false},"axis":{"orient":"top","values":[10,10.5,11,11.5,12,12.5],"tickSize":-6,"labels":false,"title":null}},
"x2":{"field":"b"},
"y":{"field":"f","type":"quantitative","scale":{"domain":[0,6.35],"nice":false,"zero":false},"axis":{"orient":"right","values":[0,2,4,6],"tickSize":-6,"labels":false,"title":null}},
"y2":{"datum":0}}},
{"data":{"name":"spec"},"transform":[{"filter":"datum.f > 0"}],"mark":{"type":"rule","color":"#bdbdbd","strokeWidth":1,"xOffset":1,"clip":true},
"encoding":{
"x":{"field":"w","type":"quantitative","scale":{"domain":[9.9,12.9],"nice":false,"zero":false},"axis":{"orient":"bottom","values":[10.1,10.2,10.3,10.4,10.6,10.7,10.8,10.9,11.1,11.2,11.3,11.4,11.6,11.7,11.8,11.9,12.1,12.2,12.3,12.4,12.6,12.7,12.8],"tickSize":-3,"labels":false,"title":null}},
"y":{"field":"f","type":"quantitative","scale":{"domain":[0,6.35],"nice":false,"zero":false},"axis":{"orient":"left","values":[1,3,5],"tickSize":-3,"labels":false,"title":null}},
"y2":{"field":"hi"}}},
{"data":{"name":"spec"},"mark":{"type":"line","interpolate":"step-after","color":"#000","strokeWidth":1.5,"clip":true},
"encoding":{
"x":{"field":"w","type":"quantitative","scale":{"domain":[9.9,12.9],"nice":false,"zero":false},"axis":{"orient":"top","values":[10.1,10.2,10.3,10.4,10.6,10.7,10.8,10.9,11.1,11.2,11.3,11.4,11.6,11.7,11.8,11.9,12.1,12.2,12.3,12.4,12.6,12.7,12.8],"tickSize":-3,"labels":false,"title":null}},
"y":{"field":"f","type":"quantitative","scale":{"domain":[0,6.35],"nice":false,"zero":false},"axis":{"orient":"right","values":[1,3,5],"tickSize":-3,"labels":false,"title":null}}}}
],
"resolve":{"axis":{"x":"independent","y":"independent"}}
}
],
"config":{
"view":{"stroke":"#555","strokeWidth":1},
"axis":{"domain":false,"grid":false,"tickColor":"#444","tickWidth":1,"labelFont":"Liberation Sans","labelFontSize":13,"labelColor":"#111","titleFont":"Liberation Sans","titleFontSize":13,"titleFontWeight":"normal","titleColor":"#111","zindex":1},
"title":{"font":"Liberation Sans","fontSize":13,"fontWeight":"normal","color":"#111"}
}
}
